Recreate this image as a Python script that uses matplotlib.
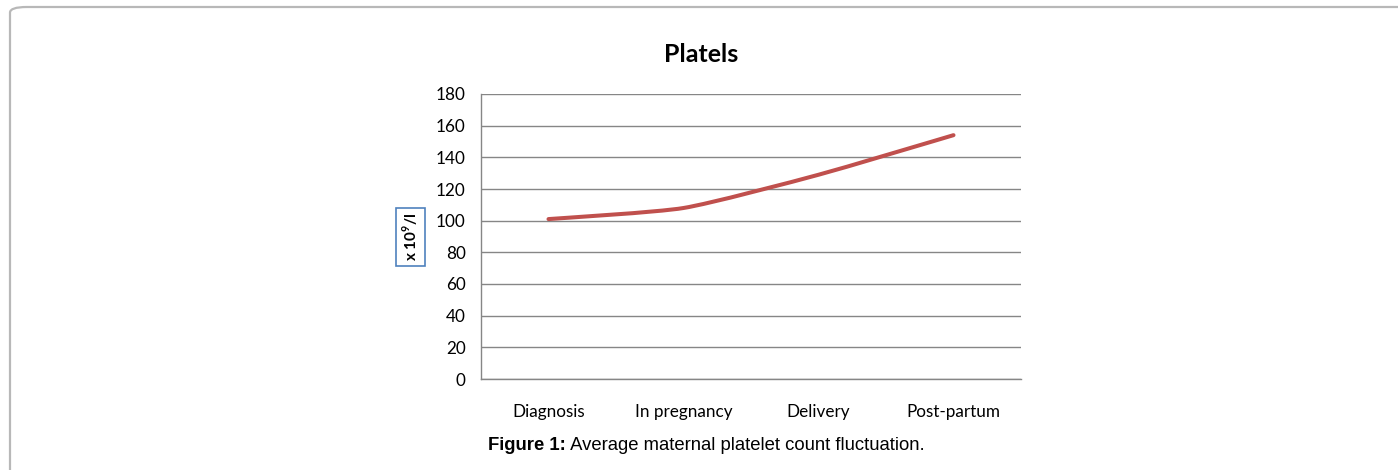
"""
Average maternal platelet count at four time points (line chart with caption)."""

import numpy as np
import matplotlib.pyplot as plt
from matplotlib.path import Path
from matplotlib.patches import PathPatch, FancyBboxPatch

STAGES = ['Diagnosis', 'In pregnancy', 'Delivery', 'Post-partum']
PLATELETS = [101, 108, 129, 154]  # x 10^9/l
Y_TICKS = [0, 20, 40, 60, 80, 100, 120, 140, 160, 180]

LINE_COLOR = '#c0504d'
GRID_COLOR = '#868686'

plt.rcParams['font.family'] = ['Lato', 'DejaVu Sans']
plt.rcParams['mathtext.fontset'] = 'custom'
plt.rcParams['mathtext.rm'] = 'Lato'
plt.rcParams['mathtext.bf'] = 'Lato:bold'


def smooth_path(xs, ys, tension=1 / 10):
    """Cubic bezier through the points, a lightly smoothed line."""
    pts = np.column_stack([xs, ys]).astype(float)
    padded = np.vstack([pts[0], pts, pts[-1]])
    verts = [pts[0]]
    codes = [Path.MOVETO]
    for i in range(len(pts) - 1):
        p0, p1, p2, p3 = padded[i], padded[i + 1], padded[i + 2], padded[i + 3]
        verts += [p1 + (p2 - p0) * tension, p2 - (p3 - p1) * tension, p2]
        codes += [Path.CURVE4] * 3
    return Path(verts, codes)


W, H = 1398, 470
fig = plt.figure(figsize=(W / 100, H / 100), dpi=100)

# page frame with a rounded top-left corner
fig.patches.append(FancyBboxPatch((10 / W, -0.2), 1.2, 1 - 7 / H + 0.2,
                                  boxstyle='round,pad=0,rounding_size=0.012',
                                  transform=fig.transFigure, fc='none',
                                  ec='#b8b8b8', lw=1.6))

ax = fig.add_axes([481 / W, 1 - 379 / H, 540 / W, 285 / H])
x = np.arange(len(STAGES))
ax.add_patch(PathPatch(smooth_path(x, PLATELETS), fc='none', ec=LINE_COLOR,
                       lw=2.9, capstyle='round', zorder=3))

ax.set_xlim(-0.5, len(STAGES) - 0.5)
ax.set_ylim(0, 180)
ax.set_yticks(Y_TICKS)
ax.set_xticks(x)
ax.set_xticklabels(STAGES)
ax.tick_params(length=0, labelsize=12.3)
ax.tick_params(axis='y', pad=11)
ax.tick_params(axis='x', pad=18)
ax.grid(axis='y', color=GRID_COLOR, lw=1)
ax.set_axisbelow(True)
for side in ['top', 'right']:
    ax.spines[side].set_visible(False)
for side in ['left', 'bottom']:
    ax.spines[side].set_color(GRID_COLOR)
    ax.spines[side].set_linewidth(1)

fig.text(701 / W, 1 - 54 / H, 'Platels', ha='center', va='center',
         fontsize=18, fontweight='bold')

fig.text(410.5 / W, 1 - 237 / H, r'x 10$^{\mathbf{9}}$/l', rotation=90,
         ha='center', va='center', fontsize=11, fontweight='bold',
         bbox=dict(boxstyle='square,pad=0.3', fc='white', ec='#4f81bd', lw=1.2))

# caption: bold label followed by regular text
cap = fig.text(488 / W, 1 - 445 / H, 'Figure 1:', family='Liberation Sans',
               fontweight='bold', fontsize=13.3, va='center')
ax.annotate(' Average maternal platelet count fluctuation.', xy=(1, 0),
            xycoords=cap, va='bottom', ha='left',
            family='Liberation Sans', fontsize=13.3)

fig.savefig('out.png', dpi=100)
